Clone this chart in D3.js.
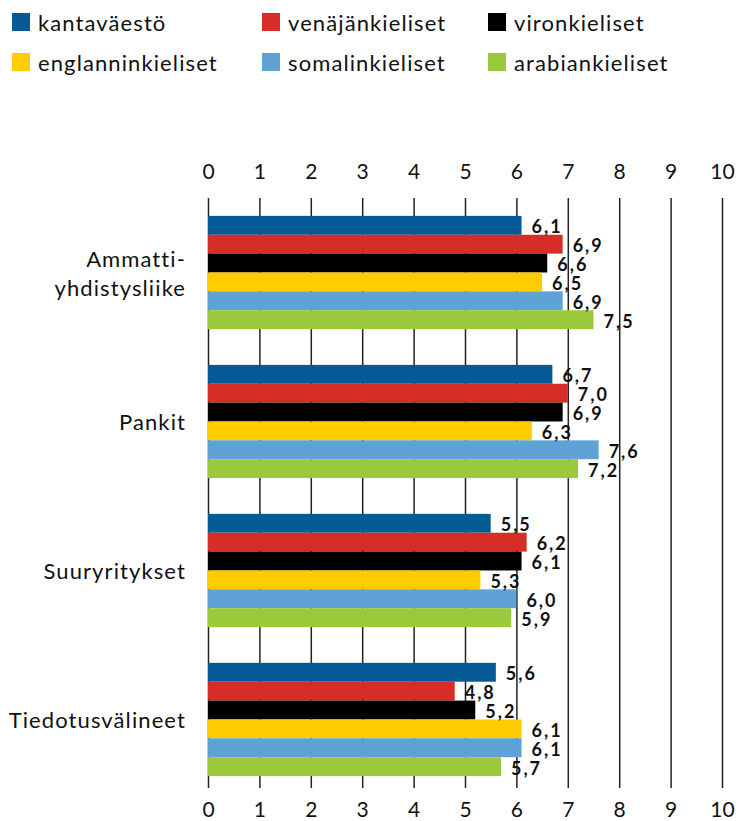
<!DOCTYPE html>
<html>
<head>
<meta charset="utf-8">
<script src="https://cdn.jsdelivr.net/npm/d3@7"></script>
<style>
  body { margin: 0; background: #fff; }
  svg { display: block; font-family: Lato, "Noto Sans", sans-serif; }
</style>
</head>
<body>
<script>
// data
var categories = ["Ammatti-|yhdistysliike", "Pankit", "Suuryritykset", "Tiedotusvälineet"];
var seriesNames = ["kantaväestö", "venäjänkieliset", "vironkieliset",
                   "englanninkieliset", "somalinkieliset", "arabiankieliset"];
var kantavaesto = [6.1, 6.7, 5.5, 5.6];
var venajankieliset = [6.9, 7.0, 6.2, 4.8];
var vironkieliset = [6.6, 6.9, 6.1, 5.2];
var englanninkieliset = [6.5, 6.3, 5.3, 6.1];
var somalinkieliset = [6.9, 7.6, 6.0, 6.1];
var arabiankieliset = [7.5, 7.2, 5.9, 5.7];
var tickValues = [0, 1, 2, 3, 4, 5, 6, 7, 8, 9, 10];

var seriesValues = [kantavaesto, venajankieliset, vironkieliset,
                    englanninkieliset, somalinkieliset, arabiankieliset];
var colors = ["#035a96", "#d62e27", "#000000", "#ffcc00", "#5fa2d6", "#9bc93c"];

var width = 739, height = 821;
var svg = d3.select("body").append("svg")
    .attr("width", width)
    .attr("height", height);

// scales
var x = d3.scaleLinear().domain([0, 10]).range([208, 722]);
var y = d3.scaleBand()
    .domain(categories)
    .range([198, 788])
    .paddingInner(0.24)
    .paddingOuter(0.1)
    .align(0.6);
var ySub = d3.scaleBand()
    .domain(seriesNames)
    .range([0, y.bandwidth()]);

// gridlines + top axis
var topAxis = svg.append("g")
    .attr("transform", "translate(0,198)")
    .call(d3.axisTop(x).tickValues(tickValues).tickSize(-590).tickPadding(19));
topAxis.attr("font-family", null).attr("font-size", null);
topAxis.select(".domain").remove();
topAxis.selectAll(".tick line").attr("stroke", "#222").attr("stroke-width", 1.5);
topAxis.selectAll(".tick text")
    .attr("fill", "#111")
    .style("font-size", "21px");

var bottomAxis = svg.append("g")
    .attr("transform", "translate(0,788)")
    .call(d3.axisBottom(x).tickValues(tickValues).tickSize(0).tickPadding(14));
bottomAxis.attr("font-family", null).attr("font-size", null);
bottomAxis.select(".domain").remove();
bottomAxis.selectAll(".tick text")
    .attr("fill", "#111")
    .style("font-size", "21px");

// bars
var rows = [];
categories.forEach(function(c, i) {
  seriesNames.forEach(function(s, j) {
    rows.push({cat: c, series: s, val: seriesValues[j][i], color: colors[j]});
  });
});

var groups = svg.append("g");
groups.selectAll(".bar")
    .data(rows)
  .enter().append("rect")
    .attr("class", "bar")
    .attr("x", x(0))
    .attr("y", function(d) { return y(d.cat) + ySub(d.series); })
    .attr("width", function(d) { return x(d.val) - x(0); })
    .attr("height", ySub.bandwidth())
    .attr("fill", function(d) { return d.color; });

groups.selectAll(".val")
    .data(rows)
  .enter().append("text")
    .attr("class", "val")
    .attr("x", function(d) { return x(d.val) + 10; })
    .attr("y", function(d) { return y(d.cat) + ySub(d.series) + ySub.bandwidth() / 2 + 8; })
    .style("font-size", "18px")
    .style("font-weight", "bold")
    .style("letter-spacing", "2px")
    .attr("fill", "#111")
    .text(function(d) { return d3.format(".1f")(d.val).replace(".", ","); });

// category labels
var catLabels = svg.append("g").selectAll("text")
    .data(categories)
  .enter().append("text")
    .attr("text-anchor", "end")
    .attr("fill", "#111")
    .style("font-size", "22px")
    .style("letter-spacing", "1.1px");
catLabels.each(function(c) {
  var lines = c.split("|");
  var cy = y(c) + y.bandwidth() / 2;
  var t = d3.select(this);
  lines.forEach(function(l, k) {
    t.append("tspan")
        .attr("x", 186)
        .attr("y", cy + 9 + (k - (lines.length - 1) / 2) * 29)
        .text(l);
  });
});

// legend
var legendX = [12, 262, 488];
var legendY = [13, 53];
var legend = svg.append("g").selectAll("g")
    .data(seriesNames)
  .enter().append("g")
    .attr("transform", function(d, i) {
      return "translate(" + legendX[i % 3] + "," + legendY[Math.floor(i / 3)] + ")";
    });
legend.append("rect")
    .attr("width", 18)
    .attr("height", 18)
    .attr("fill", function(d, i) { return colors[i]; });
legend.append("text")
    .attr("x", 26)
    .attr("y", 18)
    .attr("fill", "#111")
    .style("font-size", "22px")
    .style("letter-spacing", "1.1px")
    .text(function(d) { return d; });
</script>
</body>
</html>
